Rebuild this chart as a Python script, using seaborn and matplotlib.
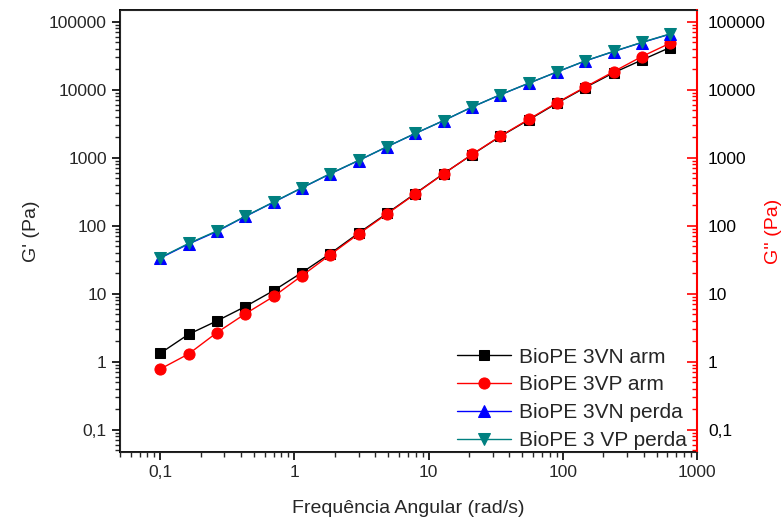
import pandas as pd
import matplotlib
matplotlib.use('Agg')
import matplotlib.pyplot as plt
from matplotlib.ticker import LogLocator, FuncFormatter, NullFormatter
import seaborn as sns

# angular frequency sweep (rad/s)
freq = [0.1, 0.1626, 0.2644, 0.4299, 0.699, 1.137, 1.848, 3.005, 4.886, 7.945,
        12.92, 21.0, 34.15, 55.5, 90.3, 146.8, 238.7, 388.1, 628.3]

vn_arm = [1.33, 2.53, 3.98, 6.47, 11.1, 20.5, 39, 78, 152, 298,
          585, 1110, 2060, 3600, 6350, 10800, 17800, 27500, 41900]
vp_arm = [0.78, 1.30, 2.68, 5.06, 9.1, 18.4, 37.5, 75.7, 149, 294,
          581, 1119, 2080, 3670, 6470, 11000, 18500, 30900, 48500]
vn_perda = [33.5, 54, 82.6, 137, 222, 361, 581, 912, 1452, 2280,
            3525, 5570, 8450, 12470, 18300, 26600, 36600, 49700, 65900]
vp_perda = [34, 55, 84, 138, 224, 363, 585, 915, 1455, 2285,
            3530, 5580, 8460, 12500, 18350, 26700, 36800, 50000, 66500]

labels = ['BioPE 3VN arm', 'BioPE 3VP arm', 'BioPE 3VN perda', 'BioPE 3 VP perda']
colors = ['#000000', '#ff0000', '#0000ff', '#008080']
markers = ['s', 'o', '^', 'v']
msizes = [7, 8, 8, 8]

sns.set_style('ticks')
plt.rcParams['font.family'] = ['Liberation Sans', 'DejaVu Sans']

df = pd.DataFrame({'freq': freq * 4,
                   'val': vn_arm + vp_arm + vn_perda + vp_perda,
                   'serie': sum([[l] * len(freq) for l in labels], [])})

fig, ax = plt.subplots(figsize=(7.84, 5.23), dpi=100)
fig.subplots_adjust(left=0.153, right=0.889, bottom=0.136, top=0.981)

for lab, c, m, ms in zip(labels, colors, markers, msizes):
    sub = df[df['serie'] == lab]
    sns.lineplot(data=sub, x='freq', y='val', ax=ax, color=c, marker=m,
                 markersize=ms, markeredgecolor=c, linewidth=1.0, label=lab)

ax.set_xscale('log')
ax.set_yscale('log')
ax.set_xlim(0.05, 1000)
ax.set_ylim(0.047, 1.5e5)

fmt = FuncFormatter(lambda v, p: '{:g}'.format(v).replace('.', ','))
ax.xaxis.set_major_locator(LogLocator(base=10, numticks=20))
ax.xaxis.set_minor_locator(LogLocator(base=10, subs=range(2, 10), numticks=20))
ax.yaxis.set_major_locator(LogLocator(base=10, numticks=20))
ax.yaxis.set_minor_locator(LogLocator(base=10, subs=range(2, 10), numticks=20))
ax.xaxis.set_major_formatter(fmt)
ax.yaxis.set_major_formatter(fmt)
ax.xaxis.set_minor_formatter(NullFormatter())
ax.yaxis.set_minor_formatter(NullFormatter())

ax.tick_params(axis='both', which='major', direction='out', length=6, width=1.2,
               labelsize=12.5, color='black')
ax.tick_params(axis='both', which='minor', direction='out', length=3.5, width=1.0)
for s in ax.spines.values():
    s.set_linewidth(1.3)
    s.set_color('black')

ax.set_xlabel('Frequência Angular (rad/s)', fontsize=14, labelpad=14)
ax.set_ylabel("G' (Pa)", fontsize=14)
ax.yaxis.set_label_coords(-0.138, 0.5)

# right axis for G''
ax2 = ax.twinx()
ax2.set_yscale('log')
ax2.set_ylim(ax.get_ylim())
ax2.yaxis.set_major_locator(LogLocator(base=10, numticks=20))
ax2.yaxis.set_minor_locator(LogLocator(base=10, subs=range(2, 10), numticks=20))
ax2.yaxis.set_major_formatter(fmt)
ax2.yaxis.set_minor_formatter(NullFormatter())
ax2.tick_params(axis='y', which='major', direction='in', length=7, width=1.2,
                colors='red', labelcolor='black', labelsize=12.5, pad=8)
ax2.tick_params(axis='y', which='minor', direction='in', length=3.5, width=1.0,
                colors='red')
ax2.spines['right'].set_color('red')
ax2.spines['right'].set_linewidth(1.5)
ax2.set_ylabel("G'' (Pa)", fontsize=14, color='red')
ax2.yaxis.set_label_coords(1.118, 0.5)

ax.legend(loc='lower right', bbox_to_anchor=(0.99, -0.005), frameon=False,
          fontsize=15, handlelength=2.6, labelspacing=0.42, borderaxespad=0.1,
          borderpad=0.1, handletextpad=0.4)

fig.savefig('out.png', dpi=100)
plt.close(fig)
